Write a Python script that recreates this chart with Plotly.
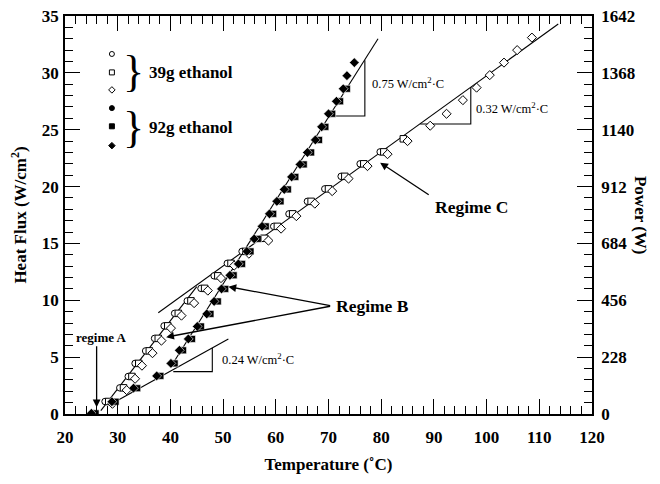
import plotly.graph_objects as go

# ---------------- data ----------------
# 39 g ethanol (open symbols)
open_circle_T = [27.6, 30.4, 32.0, 33.3, 35.3, 37.0, 38.8, 40.8, 43.2, 45.8, 48.3, 50.8, 53.6, 57.2, 59.6, 62.5, 66.0, 69.3, 72.4, 76.0, 79.8]
open_circle_q = [1.1, 2.3, 3.3, 4.45, 5.55, 6.65, 7.75, 8.85, 9.95, 11.05, 12.15, 13.25, 14.3, 15.45, 16.5, 17.6, 18.7, 19.8, 20.9, 22.0, 23.05]
open_square_T = [28.3, 31.1, 32.7, 34.0, 36.0, 37.7, 39.5, 41.5, 43.9, 46.5, 49.0, 51.5, 54.3, 57.9, 60.3, 63.2, 66.7, 70.0, 73.1, 76.7, 80.5, 84.2]
open_square_q = [1.1, 2.3, 3.3, 4.45, 5.55, 6.65, 7.75, 8.85, 9.95, 11.05, 12.15, 13.25, 14.3, 15.45, 16.5, 17.6, 18.7, 19.8, 20.9, 22.0, 23.05, 24.2]
open_diamond_T = [29.0, 31.7, 33.3, 34.6, 36.6, 38.3, 40.1, 42.1, 44.5, 47.1, 49.6, 52.1, 54.9, 58.6, 61.0, 63.9, 67.4, 70.7, 73.8, 77.4, 81.2, 85.0, 89.3, 92.4, 95.5, 98.1, 100.6, 103.3, 105.8, 108.6]
open_diamond_q = [0.9, 2.1, 3.1, 4.25, 5.35, 6.45, 7.55, 8.65, 9.75, 10.85, 11.95, 13.05, 14.1, 15.25, 16.3, 17.4, 18.5, 19.6, 20.7, 21.8, 22.85, 24.0, 25.35, 26.4, 27.6, 28.7, 29.8, 30.9, 32.0, 33.1]

# 92 g ethanol (filled symbols)
filled_circle_T = [25.4, 29.2, 33.3, 37.7, 40.4, 42.0, 43.7, 45.4, 47.2, 48.6, 50.0, 51.6, 53.2, 54.8, 56.2, 57.7, 59.1, 60.5, 61.9, 63.3, 64.9, 66.3, 67.8, 69.0, 70.3, 71.8, 73.1]
filled_circle_q = [0.06, 1.08, 2.27, 3.35, 4.45, 5.6, 6.6, 7.7, 8.8, 9.9, 11.0, 12.2, 13.2, 14.3, 15.4, 16.5, 17.6, 18.7, 19.75, 20.85, 21.95, 23.0, 24.1, 25.25, 26.4, 27.5, 28.6]
filled_square_T = [25.8, 29.6, 33.7, 38.1, 40.8, 42.4, 44.1, 45.8, 47.6, 49.0, 50.4, 52.0, 53.6, 55.2, 56.6, 58.1, 59.5, 60.9, 62.3, 63.7, 65.3, 66.7, 68.2, 69.4, 70.7, 72.2, 73.5]
filled_square_q = [0.06, 1.08, 2.27, 3.35, 4.45, 5.6, 6.6, 7.7, 8.8, 9.9, 11.0, 12.2, 13.2, 14.3, 15.4, 16.5, 17.6, 18.7, 19.75, 20.85, 21.95, 23.0, 24.1, 25.25, 26.4, 27.5, 28.6]
filled_diamond_T = [25.0, 28.9, 33.0, 37.4, 40.1, 41.7, 43.4, 45.1, 46.9, 48.3, 49.7, 51.3, 52.9, 54.5, 55.9, 57.4, 58.8, 60.2, 61.6, 63.0, 64.6, 66.0, 67.5, 68.7, 70.0, 71.5, 72.8, 73.5, 74.9]
filled_diamond_q = [0.06, 1.08, 2.27, 3.35, 4.45, 5.6, 6.6, 7.7, 8.8, 9.9, 11.0, 12.2, 13.2, 14.3, 15.4, 16.5, 17.6, 18.7, 19.75, 20.85, 21.95, 23.0, 24.1, 25.25, 26.4, 27.5, 28.6, 29.75, 30.9]

# fitted lines (end points, T in C, q in W/cm2)
fit_open_low_T = [26.8, 45.0]
fit_open_low_q = [0.3, 11.2]
fit_open_C_T = [37.7, 113.6]
fit_open_C_q = [8.9, 34.3]
fit_filled_low_T = [29.1, 51.0]
fit_filled_low_q = [0.97, 6.6]
fit_filled_B_T = [40.4, 79.4]
fit_filled_B_q = [4.4, 33.0]

# slope triangles
tri_075_T = [71.2, 76.9, 76.9]
tri_075_q = [26.2, 26.2, 31.1]
tri_032_T = [87.4, 97.0, 97.0]
tri_032_q = [25.5, 25.5, 28.75]
tri_024_T = [40.55, 47.95, 47.95]
tri_024_q = [3.73, 3.73, 5.8]

# right axis (power) tick labels at flux positions
power_tick_flux = [0, 5, 10, 15, 20, 25, 30, 35]
power_tick_text = ["0", "228", "456", "684", "912", "1140", "1368", "1642"]

# legend glyph positions
legend_T = 28.9
legend_q = [31.66, 30.04, 28.5, 26.9, 25.3, 23.6]

SERIF = "Liberation Serif, Times New Roman, serif"

fig = go.Figure()

def line(xs, ys):
    fig.add_trace(go.Scatter(x=xs, y=ys, mode="lines",
                             line=dict(color="black", width=1.1),
                             hoverinfo="skip", showlegend=False))

for xs, ys in [(fit_open_low_T, fit_open_low_q), (fit_open_C_T, fit_open_C_q),
               (fit_filled_low_T, fit_filled_low_q), (fit_filled_B_T, fit_filled_B_q),
               (tri_075_T, tri_075_q), (tri_032_T, tri_032_q), (tri_024_T, tri_024_q)]:
    line(xs, ys)

def pts(xs, ys, sym, filled, size=6.5):
    fig.add_trace(go.Scatter(
        x=xs, y=ys, mode="markers",
        marker=dict(symbol=sym, size=size,
                    color="black" if filled else "white",
                    line=dict(color="black" if not filled else "white", width=1 if not filled else 0.6)),
        showlegend=False))

pts(open_circle_T, open_circle_q, "circle", False)
pts(open_square_T, open_square_q, "square", False)
pts(open_diamond_T, open_diamond_q, "diamond", False, 7)
pts(filled_circle_T, filled_circle_q, "circle", True, 7)
pts(filled_square_T, filled_square_q, "square", True, 7)
pts(filled_diamond_T, filled_diamond_q, "diamond", True, 7.5)

# legend glyphs
for q, sym, filled in zip(legend_q,
                          ["circle", "square", "diamond", "circle", "square", "diamond"],
                          [False, False, False, True, True, True]):
    fig.add_trace(go.Scatter(x=[legend_T], y=[q], mode="markers",
                             marker=dict(symbol=sym, size=5,
                                         color="black" if filled else "white",
                                         line=dict(color="black", width=1)),
                             showlegend=False))

# invisible trace to hold the right axis
fig.add_trace(go.Scatter(x=[20, 120], y=[0, 35], yaxis="y2", mode="markers",
                         marker=dict(opacity=0), showlegend=False, hoverinfo="skip"))

ann = []
def text(x, y, s, size, bold=True, xanchor="center", yanchor="middle"):
    ann.append(dict(x=x, y=y, xref="x", yref="y", text=("<b>%s</b>" % s) if bold else s,
                    showarrow=False, font=dict(family=SERIF, size=size, color="black"),
                    xanchor=xanchor, yanchor=yanchor))

def arrow(x0, y0, x1, y1):
    ann.append(dict(x=x1, y=y1, ax=x0, ay=y0, xref="x", yref="y", axref="x", ayref="y",
                    text="", showarrow=True, arrowhead=2, arrowsize=1.2, arrowwidth=1.3,
                    arrowcolor="black", standoff=0))

# legend texts and braces
text(33.0, 30.1, "}", 44, bold=False)
text(33.0, 25.2, "}", 44, bold=False)
text(35.6, 30.0, "39g ethanol", 17, xanchor="left")
text(35.6, 25.2, "92g ethanol", 17, xanchor="left")

# slopes
text(77.9, 29.1, "0.75 W/cm<sup>2</sup>·C", 12.5, bold=False, xanchor="left")
text(97.7, 26.9, "0.32 W/cm<sup>2</sup>·C", 12.5, bold=False, xanchor="left")
text(49.4, 4.8, "0.24 W/cm<sup>2</sup>·C", 12.5, bold=False, xanchor="left")

# regimes
text(27.0, 6.7, "regime A", 13)
arrow(26.0, 6.1, 26.0, 0.6)
text(71.0, 9.5, "Regime B", 17.5, xanchor="left")
arrow(70.6, 9.5, 51.0, 11.2)
arrow(70.6, 9.5, 39.2, 6.76)
text(89.8, 18.2, "Regime C", 17.5, xanchor="left")
arrow(89.3, 19.2, 79.8, 22.1)

# right axis title (reads top to bottom)
ann.append(dict(x=1.093, y=0.5, xref="paper", yref="paper", text="<b>Power (W)</b>",
                textangle=90, showarrow=False, xanchor="center", yanchor="middle",
                font=dict(family=SERIF, size=17, color="black")))

axis_font = dict(family=SERIF, size=17, color="black")

fig.update_layout(
    width=660, height=484,
    margin=dict(l=57, r=76, t=8, b=78, autoexpand=False),
    paper_bgcolor="white", plot_bgcolor="white",
    showlegend=False,
    annotations=ann,
    xaxis=dict(range=[20, 120], tickmode="linear", tick0=20, dtick=10, automargin=False,
               ticks="inside", ticklen=15, tickwidth=1, tickcolor="black",
               minor=dict(ticks="inside", ticklen=8, dtick=2, tickcolor="black", showgrid=False),
               showline=True, linecolor="black", linewidth=1.5, mirror="ticks",
               showgrid=False, zeroline=False, ticklabeloverflow="allow",
               tickfont=axis_font, ticklabelstandoff=7,
               tickprefix="<b>", ticksuffix="</b>",
               title=dict(text="<b>Temperature (˚C)</b>", font=dict(family=SERIF, size=17, color="black"),
                          standoff=12)),
    yaxis=dict(range=[0, 35], tickmode="linear", tick0=0, dtick=5, automargin=False,
               ticks="inside", ticklen=15, tickwidth=1, tickcolor="black",
               minor=dict(ticks="inside", ticklen=8, dtick=1, tickcolor="black", showgrid=False),
               showline=True, linecolor="black", linewidth=1.5,
               showgrid=False, zeroline=False, ticklabeloverflow="allow",
               tickfont=axis_font, ticklabelstandoff=1,
               tickprefix="<b>", ticksuffix="</b>",
               title=dict(text="<b>Heat Flux (W/cm<sup>2</sup>)</b>", font=dict(family=SERIF, size=17, color="black"),
                          standoff=12)),
    yaxis2=dict(range=[0, 35], overlaying="y", side="right", automargin=False,
                tickmode="array", tickvals=power_tick_flux,
                ticktext=["<b>%s</b>" % t for t in power_tick_text],
                ticks="inside", ticklen=15, tickwidth=1, tickcolor="black",
                minor=dict(ticks="inside", ticklen=8, tickvals=list(range(0, 36)), tickcolor="black", showgrid=False),
                showline=True, linecolor="black", linewidth=1.5,
                showgrid=False, zeroline=False, ticklabeloverflow="allow",
                tickfont=axis_font, ticklabelstandoff=4),
)

fig.write_html("out.html")
